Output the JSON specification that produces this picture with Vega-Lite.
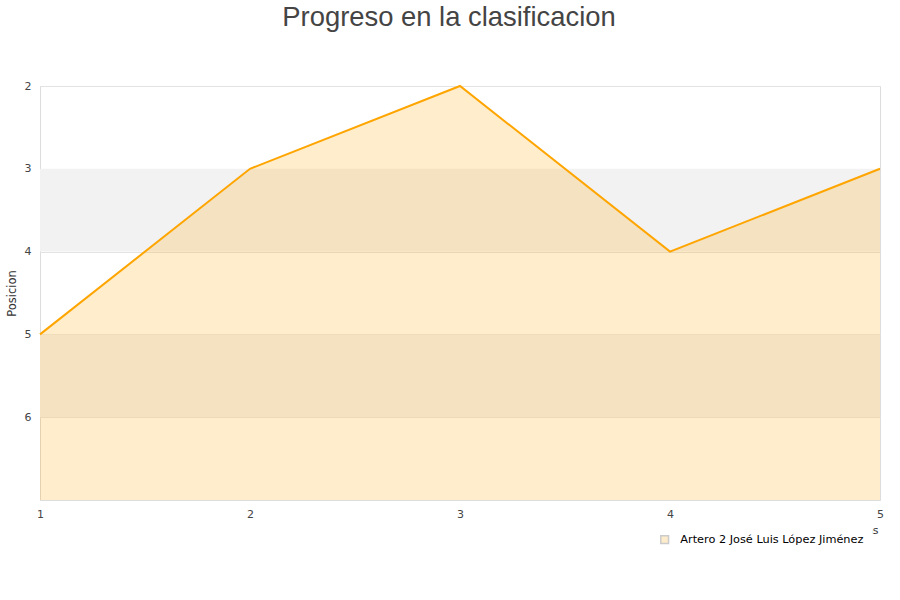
{
  "$schema": "https://vega.github.io/schema/vega-lite/v6.json",
  "width": 840,
  "height": 414,
  "autosize": {"type": "none"},
  "padding": {"left": 40, "top": 86, "right": 20, "bottom": 100},
  "background": "white",
  "title": {
    "text": "Progreso en la clasificacion",
    "font": "Liberation Sans",
    "fontSize": 27.4,
    "fontWeight": "normal",
    "color": "#444444",
    "anchor": "middle",
    "dx": -11,
    "offset": 49
  },
  "datasets": {
    "series": [
      {"jornada": 1, "posicion": 5, "jugador": "Artero 2 José Luis López Jiménez"},
      {"jornada": 2, "posicion": 3, "jugador": "Artero 2 José Luis López Jiménez"},
      {"jornada": 3, "posicion": 2, "jugador": "Artero 2 José Luis López Jiménez"},
      {"jornada": 4, "posicion": 4, "jugador": "Artero 2 José Luis López Jiménez"},
      {"jornada": 5, "posicion": 3, "jugador": "Artero 2 José Luis López Jiménez"}
    ],
    "bands": [
      {"desde": 3, "hasta": 4},
      {"desde": 5, "hasta": 6}
    ]
  },
  "config": {
    "view": {"stroke": "#dddddd", "strokeWidth": 1},
    "axis": {
      "labelFont": "DejaVu Sans",
      "labelFontSize": 11,
      "labelColor": "#444444",
      "titleFont": "DejaVu Sans",
      "titleFontSize": 11,
      "titleFontWeight": "normal",
      "titleColor": "#333333",
      "ticks": false,
      "domain": false
    }
  },
  "layer": [
    {
      "data": {"name": "bands"},
      "mark": {"type": "rect", "fill": "#f2f2f2"},
      "encoding": {
        "y": {"field": "desde", "type": "quantitative", "scale": {"domain": [2, 7], "reverse": true, "zero": false, "nice": false}},
        "y2": {"field": "hasta"}
      }
    },
    {
      "data": {"name": "series"},
      "mark": {"type": "area", "opacity": 0.2},
      "encoding": {
        "x": {"field": "jornada", "type": "quantitative", "scale": {"domain": [1, 5], "nice": false, "zero": false},
          "axis": {"values": [1, 2, 3, 4, 5], "format": "d", "grid": false, "labelFlush": false, "title": "Jornadas", "titleX": 838, "titleAlign": "right", "labelPadding": 8, "titlePadding": 5}},
        "y": {"field": "posicion", "type": "quantitative", "scale": {"domain": [2, 7], "reverse": true, "zero": false, "nice": false},
          "axis": {"values": [2, 3, 4, 5, 6], "format": "d", "title": "Posicion", "titleFontSize": 11.5, "grid": true, "gridColor": "#e3e3e3", "labelPadding": 9, "titlePadding": 7}},
        "y2": {"datum": 7},
        "color": {"field": "jugador", "type": "nominal", "scale": {"range": ["orange"]},
          "legend": {
            "title": null,
            "orient": "none",
            "legendX": 611,
            "legendY": 440,
            "fillColor": "white",
            "padding": 8,
            "symbolType": "square",
            "symbolSize": 60,
            "symbolStrokeWidth": 1.5,
            "symbolStrokeColor": "#000000",
            "labelFont": "DejaVu Sans",
            "labelFontSize": 11.3,
            "labelColor": "#000000",
            "labelOffset": 10,
            "labelLimit": 400
          }}
      }
    },
    {
      "data": {"name": "series"},
      "mark": {"type": "line", "color": "orange", "strokeWidth": 2},
      "encoding": {
        "x": {"field": "jornada", "type": "quantitative"},
        "y": {"field": "posicion", "type": "quantitative"}
      }
    }
  ]
}
